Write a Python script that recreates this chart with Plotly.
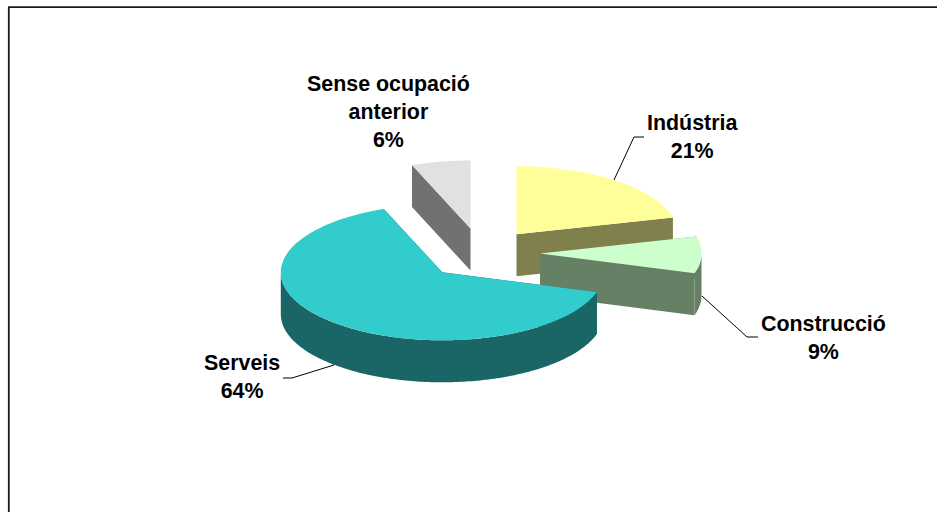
import numpy as np
import plotly.graph_objects as go

categories = ["Indústria", "Construcció", "Serveis", "Sense ocupació<br>anterior"]
shares = [21.0, 8.7, 64.4, 5.9]
top_colors = ["#FFFF99", "#CCFFCC", "#33CCCC", "#E1E1E1"]
side_colors = ["#80804D", "#668066", "#1A6666", "#717171"]

RX, RY, DEPTH = 161.5, 68.0, 42.0
centers = [(516.5, 234.3), (540.0, 253.5), (442.3, 272.3), (470.5, 228.5)]
label_pos = [(692, 137), (823, 338), (242, 377), (388, 112)]
leaders = [
    [(614, 180), (634, 137), (644, 137)],
    [(702, 296), (747, 337), (758, 337)],
    [(334, 365), (292, 378), (283, 378)],
]
draw_order = [3, 0, 1, 2]

fig = go.Figure()


def poly(xs, ys, color):
    fig.add_trace(go.Scatter(
        x=list(xs) + [xs[0]], y=list(ys) + [ys[0]], mode="lines", fill="toself",
        fillcolor=color, line=dict(width=0, color=color, simplify=False),
        hoverinfo="skip", showlegend=False,
    ))


edges = np.concatenate([[0], np.cumsum(shares)]) * 2 * np.pi / 100
for i in draw_order:
    cx, cy = centers[i]
    t0, t1 = edges[i], edges[i + 1]
    side = side_colors[i]
    # radial walls
    for a in (t0, t1):
        ex, ey = cx + RX * np.sin(a), cy - RY * np.cos(a)
        poly([cx, ex, ex, cx], [cy, ey, ey + DEPTH, cy + DEPTH], side)
    # outer rim: only the part of the arc that faces the viewer
    f0, f1 = max(t0, np.pi / 2), min(t1, 3 * np.pi / 2)
    if f1 > f0:
        f = np.linspace(f0, f1, 160)
        rx = cx + RX * np.sin(f)
        ry = cy - RY * np.cos(f)
        poly(np.r_[rx, rx[::-1]], np.r_[ry, ry[::-1] + DEPTH], side)
    # top face
    t = np.linspace(t0, t1, 160)
    poly(np.r_[cx, cx + RX * np.sin(t)], np.r_[cy, cy - RY * np.cos(t)], top_colors[i])

for pts in leaders:
    fig.add_trace(go.Scatter(
        x=[p[0] for p in pts], y=[p[1] for p in pts], mode="lines",
        line=dict(color="#000000", width=1), hoverinfo="skip", showlegend=False,
    ))

annotations = [
    dict(x=p[0], y=p[1], xref="x", yref="y", showarrow=False, align="center",
         text=f"<b>{c}<br>{round(v)}%</b>",
         font=dict(family="Liberation Sans", size=21.4, color="#000000"))
    for c, v, p in zip(categories, shares, label_pos)
]

shapes = [
    dict(type="line", x0=8.8, x1=8.8, y0=7, y1=512, line=dict(color="#1a1a1a", width=1.8)),
    dict(type="line", x0=8, x1=937, y0=7.2, y1=7.2, line=dict(color="#1a1a1a", width=1.8)),
]

fig.update_layout(
    width=937, height=512, margin=dict(l=0, r=0, t=0, b=0),
    paper_bgcolor="white", plot_bgcolor="white",
    xaxis=dict(range=[0, 937], visible=False, fixedrange=True),
    yaxis=dict(range=[512, 0], visible=False, fixedrange=True),
    annotations=annotations, shapes=shapes, showlegend=False,
)
fig.write_html("out.html", config={"displayModeBar": False},
               post_script="document.body.style.margin='0';document.body.style.overflow='hidden';")
